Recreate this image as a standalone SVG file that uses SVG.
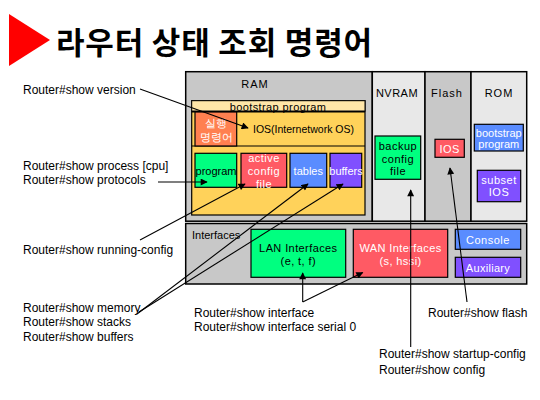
<svg xmlns="http://www.w3.org/2000/svg" width="540" height="400" viewBox="0 0 540 400">
<style>
.lbl{font-family:"Liberation Sans",Arial,sans-serif;font-size:12px;fill:#000}
.t{font-family:"Liberation Sans",Arial,sans-serif;font-size:11px;text-anchor:middle;dominant-baseline:central}
.w{fill:#fff}
.k{fill:#000}
.box{stroke:#000;stroke-width:1.2}
.col{stroke:#000;stroke-width:1.5}
.con{stroke:#000;stroke-width:1.1;fill:none}
</style>
<defs>
<marker id="ah" viewBox="0 0 10 10" refX="9" refY="5" markerWidth="8" markerHeight="7" markerUnits="userSpaceOnUse" orient="auto">
<path d="M0,0 L10,5 L0,10 z" fill="#000"/>
</marker>
</defs>
<rect width="540" height="400" fill="#fff"/>

<g id="title">
<polygon points="9,14 50,40 9,66" fill="#ff0000"/>
<text x="56" y="54" font-family="'Noto Sans CJK KR',sans-serif" font-weight="bold" font-size="31" textLength="316" lengthAdjust="spacing">라우터 상태 조회 명령어</text>
</g>

<g id="ram">
<rect class="col" x="185.7" y="71.7" width="186.6" height="149.5" fill="#c8c8c8"/>
<text class="t k" x="255" y="84" letter-spacing="1">RAM</text>
</g>
<g id="nvram">
<rect class="col" x="372.3" y="71.7" width="52.7" height="149.5" fill="#e8e8e8"/>
<text class="t k" x="397" y="93" letter-spacing="0.5">NVRAM</text>
</g>
<g id="flash">
<rect class="col" x="425" y="71.7" width="46" height="149.5" fill="#c8c8c8"/>
<text class="t k" x="447" y="93" letter-spacing="1">Flash</text>
</g>
<g id="rom">
<rect class="col" x="471" y="71.7" width="55.7" height="149.5" fill="#e8e8e8"/>
<text class="t k" x="499" y="93" letter-spacing="1">ROM</text>
</g>

<g id="bootstrap-area">
<rect class="box" x="191.7" y="100.7" width="173.3" height="114.3" fill="#ffd25a"/>
<rect x="191.7" y="100.7" width="173.3" height="10.5" fill="#ffe6a8" stroke="#000" stroke-width="1"/>
<line x1="191.7" y1="111.7" x2="365" y2="111.7" stroke="#000" stroke-width="1.8"/>
<line x1="191.7" y1="146" x2="365" y2="146" stroke="#000" stroke-width="1.2"/>
<text class="t k" x="278" y="106.5" letter-spacing="0.4">bootstrap program</text>
<text class="t k" x="253" y="129" font-size="10.5" style="text-anchor:start" textLength="101" lengthAdjust="spacingAndGlyphs">IOS(Internetwork OS)</text>
</g>

<g id="exec-cmd">
<rect class="box" x="195" y="112" width="41.7" height="34" fill="#ff8050"/>
<text class="t w" x="216" y="123" font-family="'Noto Sans CJK KR',sans-serif" font-size="10">실행</text>
<text class="t w" x="216" y="137" font-family="'Noto Sans CJK KR',sans-serif" font-size="10">명령어</text>
</g>
<g id="program">
<rect class="box" x="195" y="153.3" width="41.7" height="34" fill="#00ff80"/>
<text class="t k" x="216" y="171">program</text>
</g>
<g id="active-config">
<rect class="box" x="241" y="153.3" width="45.7" height="34" fill="#ff5a64"/>
<text class="t w" x="264" y="158" letter-spacing="0.5">active</text>
<text class="t w" x="264" y="171" letter-spacing="0.5">config</text>
<text class="t w" x="264" y="183.5" letter-spacing="0.5">file</text>
</g>
<g id="tables">
<rect class="box" x="290" y="153.3" width="36.7" height="34" fill="#5a8cff"/>
<text class="t w" x="308.3" y="170.5">tables</text>
</g>
<g id="buffers">
<rect class="box" x="330" y="153.3" width="31.7" height="34" fill="#8050ff"/>
<text class="t w" x="346" y="170.5">buffers</text>
</g>

<g id="backup-config">
<rect class="box" x="375" y="136" width="45.7" height="43.3" fill="#00ff80"/>
<text class="t k" x="398" y="146" letter-spacing="0.5">backup</text>
<text class="t k" x="398" y="158.5" letter-spacing="0.5">config</text>
<text class="t k" x="398" y="171" letter-spacing="0.5">file</text>
</g>
<g id="flash-ios">
<rect class="box" x="435" y="139.3" width="29.3" height="18" fill="#ff5a64"/>
<text class="t w" x="449.7" y="148.5" letter-spacing="0.5">IOS</text>
</g>
<g id="rom-bootstrap">
<rect class="box" x="474.3" y="124.3" width="49" height="26.7" fill="#5a8cff"/>
<text class="t w" x="498.8" y="132.5" font-size="10">bootstrap</text>
<text class="t w" x="498.8" y="144" font-size="10">program</text>
</g>
<g id="subset-ios">
<rect class="box" x="477.3" y="170.3" width="43.4" height="31.4" fill="#8050ff"/>
<text class="t w" x="499" y="180" letter-spacing="0.5">subset</text>
<text class="t w" x="499" y="192.3" letter-spacing="0.5">IOS</text>
</g>

<g id="interfaces">
<rect class="col" x="185.7" y="223.5" width="341" height="60.5" fill="#c8c8c8"/>
<text class="t k" x="192" y="235" font-size="10.5" style="text-anchor:start">Interfaces</text>
</g>
<g id="lan">
<rect class="box" x="251" y="229.3" width="94.7" height="48" fill="#00ff80"/>
<text class="t k" x="298.3" y="247.7" letter-spacing="0.4">LAN Interfaces</text>
<text class="t k" x="298.3" y="260.7" letter-spacing="0.4">(e, t, f)</text>
</g>
<g id="wan">
<rect class="box" x="353.3" y="229.3" width="94.4" height="48" fill="#ff5a64"/>
<text class="t w" x="400.5" y="247.7" letter-spacing="0.4">WAN Interfaces</text>
<text class="t w" x="400.5" y="260.7" letter-spacing="0.4">(s, hssi)</text>
</g>
<g id="console">
<rect class="box" x="455.3" y="229.3" width="65.4" height="20" fill="#5a8cff"/>
<text class="t w" x="488" y="239.5" letter-spacing="0.5">Console</text>
</g>
<g id="auxiliary">
<rect class="box" x="455.3" y="257.3" width="65.4" height="20" fill="#8050ff"/>
<text class="t w" x="488" y="267.5" letter-spacing="0.3">Auxiliary</text>
</g>

<g id="labels">
<text class="lbl" x="23" y="94">Router#show version</text>
<text class="lbl" x="23" y="170">Router#show process [cpu]</text>
<text class="lbl" x="23" y="184">Router#show protocols</text>
<text class="lbl" x="23" y="254">Router#show running-config</text>
<text class="lbl" x="23" y="312">Router#show memory</text>
<text class="lbl" x="23" y="326">Router#show stacks</text>
<text class="lbl" x="23" y="341">Router#show buffers</text>
<text class="lbl" x="194" y="317">Router#show interface</text>
<text class="lbl" x="194" y="331">Router#show interface serial 0</text>
<text class="lbl" x="428" y="317">Router#show flash</text>
<text class="lbl" x="379" y="358">Router#show startup-config</text>
<text class="lbl" x="379" y="374">Router#show config</text>
</g>

<g id="connectors">
<line class="con" x1="140" y1="89" x2="248" y2="128" marker-end="url(#ah)"/>
<line class="con" x1="158" y1="182" x2="207" y2="182" marker-end="url(#ah)"/>
<line class="con" x1="140" y1="240" x2="245" y2="184" marker-end="url(#ah)"/>
<line class="con" x1="137" y1="314" x2="308" y2="184" marker-end="url(#ah)"/>
<line class="con" x1="139" y1="312" x2="343" y2="184" marker-end="url(#ah)"/>
<line class="con" x1="302.7" y1="302" x2="302.7" y2="273" marker-end="url(#ah)"/>
<line class="con" x1="302.7" y1="302" x2="362.7" y2="272.5" marker-end="url(#ah)"/>
<line class="con" x1="410.7" y1="347" x2="410.7" y2="190" marker-end="url(#ah)"/>
<line class="con" x1="467" y1="302" x2="450" y2="168" marker-end="url(#ah)"/>
</g>
</svg>
